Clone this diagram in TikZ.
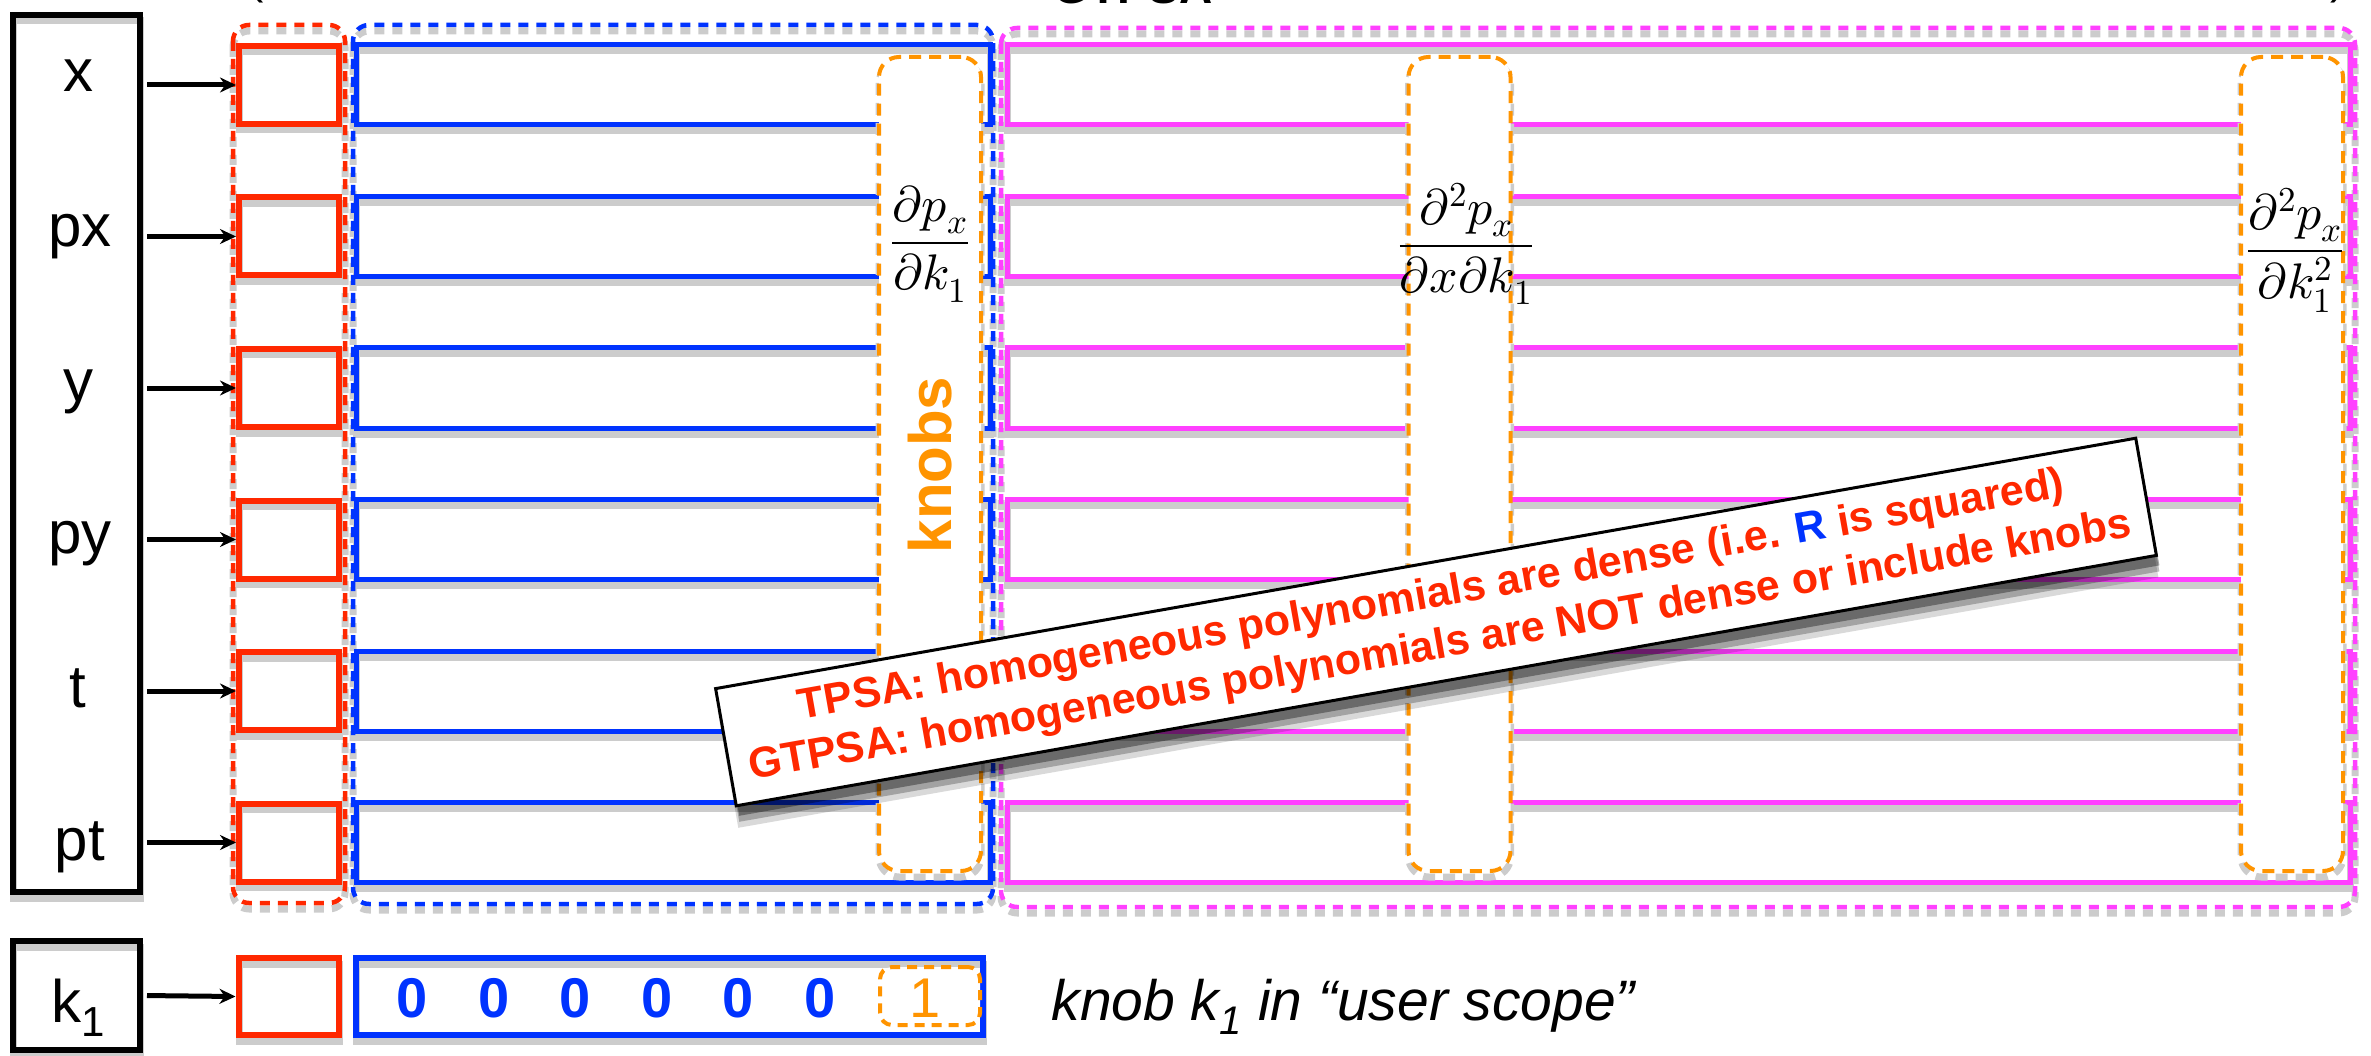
\documentclass[tikz,border=0pt]{standalone}
\usepackage{fontspec}
\usepackage{unicode-math}
\setmainfont{Liberation Sans}
\setmathfont{Latin Modern Math}
\usetikzlibrary{arrows.meta,shadows}
\definecolor{cred}{RGB}{255,40,0}
\definecolor{cblue}{RGB}{0,51,255}
\definecolor{cpink}{RGB}{255,64,255}
\definecolor{corange}{RGB}{255,148,0}
\begin{document}
\begin{tikzpicture}[x=1pt,y=-1pt,
  lbl/.style={font=\fontsize{60}{70}\selectfont, anchor=base},
  blk/.style={draw=black, line width=6pt, inner sep=0pt},
  rbox/.style={draw=cred, line width=6pt, minimum width=100pt, minimum height=78pt, inner sep=0pt},
  rowb/.style={draw=cblue, line width=5pt},
  rowp/.style={draw=cpink, line width=5pt},
  shd/.style={draw=black!20, line width=7pt},
  cont/.style={line width=4.5pt, dash pattern=on 10pt off 8pt, rounded corners=16pt},
  knob/.style={draw=corange, fill=white, line width=4pt, dash pattern=on 12pt off 8pt, rounded corners=20pt, minimum width=102pt, minimum height=814pt, inner sep=0pt},
  frac/.style={font=\fontsize{50}{56}\selectfont},
  arr/.style={-{Stealth[length=16pt,width=15pt]}, line width=5pt, black}
]
\useasboundingbox (0,0) rectangle (2371,1056);
\clip (0,0) rectangle (2371,1056);

% top (cut) title
\node[font=\fontsize{46}{50}\selectfont\bfseries, anchor=base] (ttl) at (1133,4) {GTPSA};
\node[font=\fontsize{46}{50}\selectfont, anchor=base] (lp) at (256,-6) {(};
\node[font=\fontsize{46}{50}\selectfont, anchor=base] (rp) at (2338,-6) {)};

% shadows
\draw[cont, shd] (233,31) rectangle (345,909);
\draw[cont, shd] (353,31) rectangle (993,910);
\draw[cont, shd] (1001,34) rectangle (2355,913);
\foreach \yy in {85,236.5,388,539.5,691,842.5} {
  \draw[shd] (356,\yy-34) rectangle (990,\yy+46);
  \draw[shd] (1007,\yy-34) rectangle (2350,\yy+46);
  \draw[shd] (239,\yy-33) rectangle (339,\yy+45);
}
\draw[shd] (13,21) rectangle (140,898);
\draw[shd] (13,947) rectangle (140,1056);
\draw[shd] (239,964) rectangle (339,1041);
\draw[shd] (356,964) rectangle (983,1041);

% containers
\draw[cont, cred] (233,25) rectangle (345,903);
\draw[cont, cblue] (353,25) rectangle (993,904);
\draw[cont, cpink] (1001,28) rectangle (2355,907);

% rows
\foreach \yy [count=\i] in {85,236.5,388,539.5,691,842.5} {
  \draw[rowb] (356,\yy-40) rectangle (990,\yy+40);
  \draw[rowp] (1007,\yy-40) rectangle (2350,\yy+40);
  \node[rbox] (r\i) at (289,\yy) {};
}

% knob columns
\draw[shd, dash pattern=on 12pt off 8pt, rounded corners=20pt] (879,63) rectangle (981,877);
\draw[shd, dash pattern=on 12pt off 8pt, rounded corners=20pt] (1408.5,63) rectangle (1510.5,877);
\draw[shd, dash pattern=on 12pt off 8pt, rounded corners=20pt] (2241,63) rectangle (2343,877);
\node[knob] (kn1) at (930,464) {};
\node[knob] (kn2) at (1459.5,464) {};
\node[knob] (kn3) at (2292,464) {};

\node[frac] (f1) at (930,244) {$\displaystyle\frac{\partial p_x}{\partial k_1}$};
\node[frac] (f2) at (1466,244) {$\displaystyle\frac{\partial^2 p_x}{\partial x\partial k_1}$};
\node[frac] (f3) at (2295,250) {$\displaystyle\frac{\partial^2 p_x}{\partial k_1^2}$};
\node[font=\fontsize{60}{70}\selectfont\bfseries, text=corange, rotate=90] (kt) at (930,465) {knobs};

% variable box
\node[blk, minimum width=127pt, minimum height=877pt] (vars) at (76.5,453.5) {};
\node[lbl] (lx) at (78,92) {x};
\node[lbl] (lpx) at (80,247) {px};
\node[lbl] (ly) at (78,401) {y};
\node[lbl] (lpy) at (80,553) {py};
\node[lbl] (lt) at (78,707) {t};
\node[lbl] (lpt) at (80,860) {pt};
\foreach \i in {1,...,6} \draw[arr, shorten <=4pt] (vars.east |- r\i.west) -- (r\i.west);

% knob k1 row
\node[blk, minimum width=127pt, minimum height=109pt] (kb) at (76.5,995.5) {};
\node[lbl] (kl) at (78,1022) {k\textsubscript{1}};
\node[rbox, minimum height=77pt] (kr) at (288.5,996.5) {};
\node[draw=cblue, line width=6pt, minimum width=627pt, minimum height=77pt, inner sep=0pt] (kv) at (669.5,996.5) {};
\foreach \xx [count=\j] in {412,494,575,657,738,820}
  \node[font=\fontsize{56}{60}\selectfont\bfseries, text=cblue] (z\j) at (\xx,998) {0};
\node[draw=corange, fill=white, line width=4pt, dash pattern=on 10pt off 7pt, rounded corners=12pt, minimum width=100pt, minimum height=58pt, inner sep=0pt] (ko) at (930,996) {};
\node[font=\fontsize{56}{60}\selectfont, text=corange] (one) at (925,998) {1};
\draw[arr, shorten <=4pt] (kb.east) -- (kr.west);
\node[font=\fontsize{57}{70}\selectfont\itshape, anchor=base west] (ks) at (1048,1020) {knob k\textsubscript{1} in “user scope”};

% callout
\node[draw=black, line width=3pt, fill=white, rotate=10, minimum width=1442pt, minimum height=119pt, inner sep=0pt, align=center, text=cred, font=\fontsize{43}{51}\selectfont\bfseries,
  drop shadow={shadow xshift=2pt, shadow yshift=-22pt, opacity=0.15, fill=black},
  drop shadow={shadow xshift=3pt, shadow yshift=-16pt, opacity=0.25, fill=black},
  drop shadow={shadow xshift=3pt, shadow yshift=-10pt, opacity=0.35, fill=black}] (note) at (1436,622) {TPSA: homogeneous polynomials are dense (i.e. {\color{cblue}R} is squared)\\GTPSA: homogeneous polynomials are NOT dense or include knobs};
\end{tikzpicture}
\end{document}
